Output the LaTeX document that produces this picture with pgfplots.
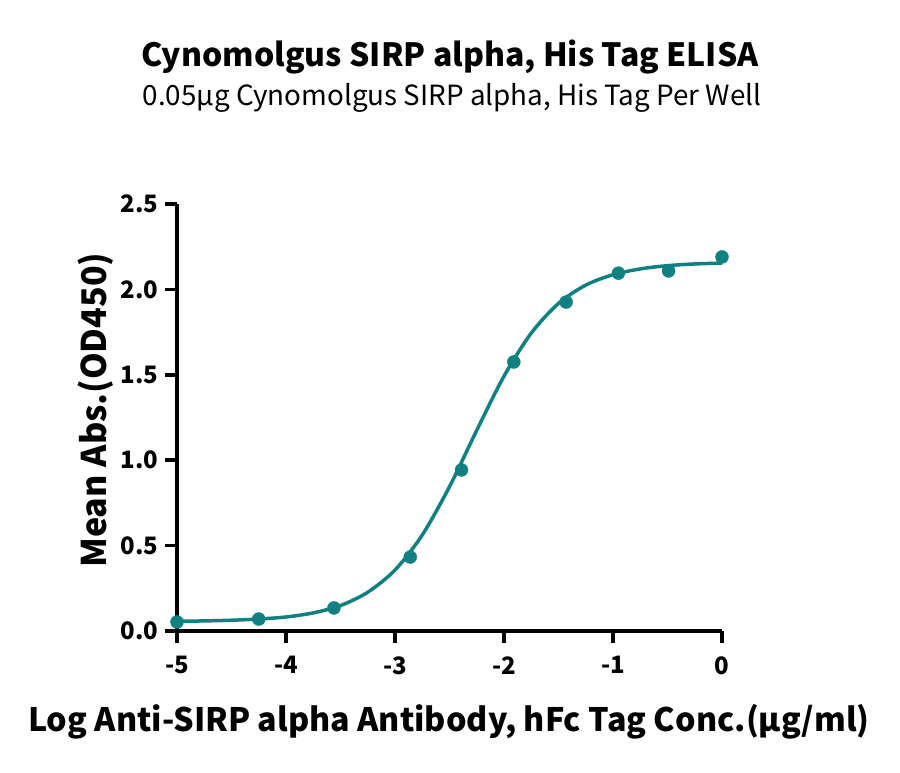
\documentclass[border=0pt]{standalone}
\usepackage{fontspec}
\setmainfont{Noto Sans CJK SC}
\usepackage{pgfplots}
\pgfplotsset{compat=1.18}
\definecolor{tealc}{RGB}{16,128,128}

\begin{document}
\begin{tikzpicture}[x=1pt,y=1pt]
\useasboundingbox (-177,-142) rectangle (723,631);
\begin{axis}[
    at={(0,0)}, anchor=south west,
    width=545pt, height=427pt, scale only axis,
    xmin=-5, xmax=0, ymin=0, ymax=2.5,
    axis x line*=bottom, axis y line*=left,
    axis line style={line width=3.5pt, black},
    xtick={-5,-4,...,0}, ytick={0,0.5,...,2.5},
    tick align=outside, major tick length=12pt,
    tick style={line width=3.5pt, black},
    /pgf/number format/assume math mode=true,
    ticklabel style={font=\bfseries\fontsize{24}{24}\selectfont},
    yticklabel style={/pgf/number format/fixed, /pgf/number format/fixed zerofill, /pgf/number format/precision=1},
    xticklabel style={yshift=-10pt},
    yticklabel style={xshift=-3pt},
    xlabel={Log Anti-SIRP alpha Antibody, hFc Tag Conc.(µg/ml)},
    xlabel style={at={(axis description cs:0.499,-0.213)}, anchor=center, font=\bfseries\fontsize{32.3}{32}\selectfont},
    ylabel={Mean Abs.(OD450)},
    ylabel style={at={(axis description cs:-0.150,0.517)}, anchor=center, rotate=0, font=\bfseries\fontsize{34}{34}\selectfont},
    clip=false,
]
% fitted curve
\addplot[tealc, line width=3.5pt, smooth] coordinates {
    (-5,0.057) (-4.75,0.059) (-4.5,0.063) (-4.25,0.070) (-4,0.082) (-3.75,0.106)
    (-3.5,0.149) (-3.25,0.227) (-3,0.357) (-2.75,0.562) (-2.5,0.845)
    (-2.25,1.175) (-2,1.492) (-1.75,1.744) (-1.5,1.918) (-1.25,2.025)
    (-1,2.086) (-0.75,2.120) (-0.5,2.139) (-0.25,2.149) (0,2.154)
};
% measured points
\addplot[only marks, mark=*, mark size=6.5pt, tealc, mark options={draw=tealc, fill=tealc}] coordinates {
    (-5,0.053) (-4.25,0.070) (-3.56,0.135) (-2.86,0.433) (-2.39,0.943)
    (-1.91,1.575) (-1.43,1.926) (-0.95,2.095) (-0.49,2.108) (0,2.19)
};
\end{axis}
\node[font=\bfseries\fontsize{32}{32}\selectfont] at (273,574) {Cynomolgus SIRP alpha, His Tag ELISA};
\node[font=\fontsize{27.8}{28}\selectfont] at (275,533) {0.05µg Cynomolgus SIRP alpha, His Tag Per Well};
\end{tikzpicture}
\end{document}
